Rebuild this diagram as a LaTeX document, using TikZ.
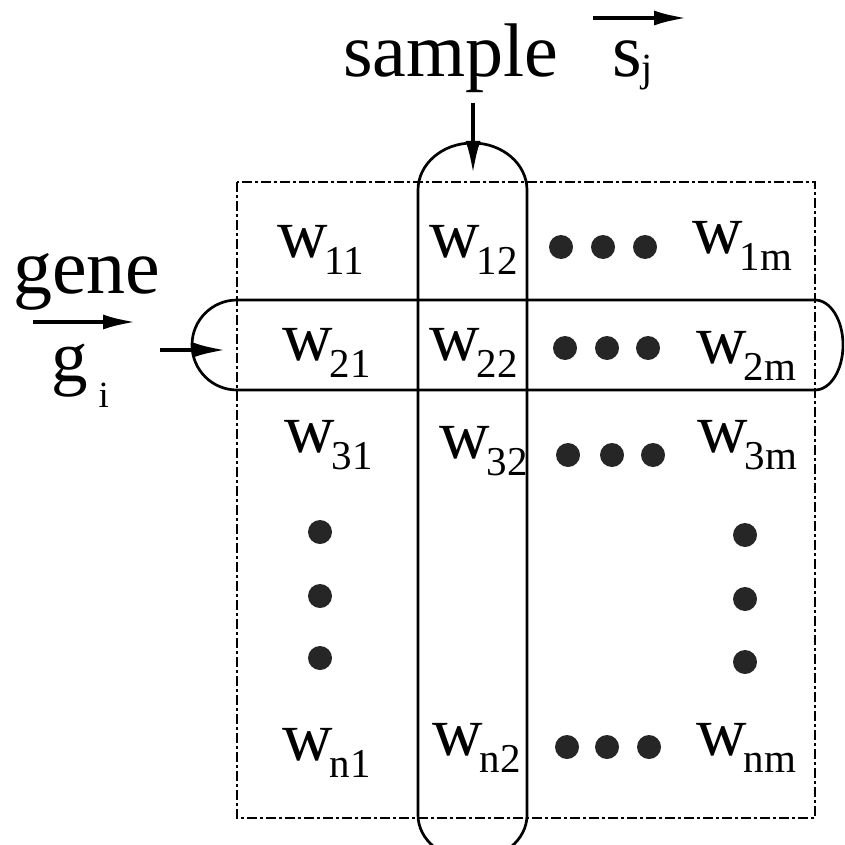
\documentclass[tikz,border=0pt]{standalone}
\usepackage{fontspec}
\newfontfamily\timesfont{Liberation Serif}
\usetikzlibrary{arrows.meta}

% entry of the weight matrix: w with its index set low
\newcommand{\wsub}[1]{w\kern-3pt\raisebox{-17pt}{\fontsize{41}{41}\selectfont #1}}

\begin{document}
\begin{tikzpicture}[x=1pt, y=-1pt,
    entry/.style={anchor=base west, inner sep=0pt, font=\timesfont\fontsize{70}{70}\selectfont},
    caption/.style={anchor=base west, inner sep=0pt},
    arrow/.style={-{Latex[length=34pt, width=15pt]}, line width=4.5pt},
    band/.style={line width=2.7pt},
    frame/.style={line width=2.5pt, dash pattern=on 10pt off 3pt on 3pt off 3pt},
]
\clip (0,0) rectangle (844,845);

% matrix entries
\node[entry] (w11) at (277,257) {\wsub{11}};
\node[entry] (w12) at (429,257) {\wsub{12}};
\node[entry] (w1m) at (692,253) {\wsub{1m}};
\node[entry] (w21) at (282,360) {\wsub{21}};
\node[entry] (w22) at (429,360) {\wsub{22}};
\node[entry] (w2m) at (696,363) {\wsub{2m}};
\node[entry] (w31) at (284,452) {\wsub{31}};
\node[entry] (w32) at (439,458) {\wsub{32}};
\node[entry] (w3m) at (697,452) {\wsub{3m}};
\node[entry] (wn1) at (282,760) {\wsub{n1}};
\node[entry] (wn2) at (432,755) {\wsub{n2}};
\node[entry] (wnm) at (696,755) {\wsub{nm}};

% ellipsis dots
\foreach \x/\y in {561/247, 603/247, 645/247, 565/348, 607/348, 648/348,
                   568/455, 612/455, 653/455, 567/747, 607/747, 649/747,
                   320/532, 320/596, 320/658, 745/535, 745/599, 745/662}{
    \fill[black!85] (\x,\y) circle[radius=12];
}

% frame of the matrix
\draw[frame] (237,182) rectangle (815,818);

% gene row and sample column
\draw[band] (237,300) -- (815,300) arc[start angle=-90, end angle=90, x radius=28, y radius=45]
    -- (237,390) arc[start angle=90, end angle=270, x radius=45, y radius=45] -- cycle;
\draw[band] (418,815) -- (418,190) arc[start angle=180, end angle=360, x radius=54.5, y radius=47]
    -- (527,815) arc[start angle=0, end angle=180, x radius=54.5, y radius=45] -- cycle;

% labels
\node[caption, font=\timesfont\fontsize{76}{76}\selectfont] (sample) at (343,77) {sample};
\node[caption, font=\timesfont\fontsize{76}{76}\selectfont] (svec) at (612,77)
    {s\raisebox{-5pt}{\fontsize{40}{40}\selectfont j}};
\node[caption, font=\timesfont\fontsize{78}{78}\selectfont] (gene) at (13,293) {gene};
\node[caption, font=\timesfont\fontsize{73}{73}\selectfont] (gvec) at (51,381)
    {g\kern11pt\raisebox{-26pt}{\fontsize{37}{37}\selectfont i}};

\coordinate (sTail) at (593,18);
\coordinate (sHead) at (688,18);
\coordinate (gTail) at (33,322);
\coordinate (gHead) at (137,322);
\coordinate (pickS) at (473,103);
\coordinate (colTop) at (473,175);
\coordinate (pickG) at (160,350);
\coordinate (rowLeft) at (227,350);

\foreach \a/\b in {sTail/sHead, gTail/gHead, pickS/colTop, pickG/rowLeft}{
    \draw[arrow] (\a) -- (\b);
}
\end{tikzpicture}
\end{document}
